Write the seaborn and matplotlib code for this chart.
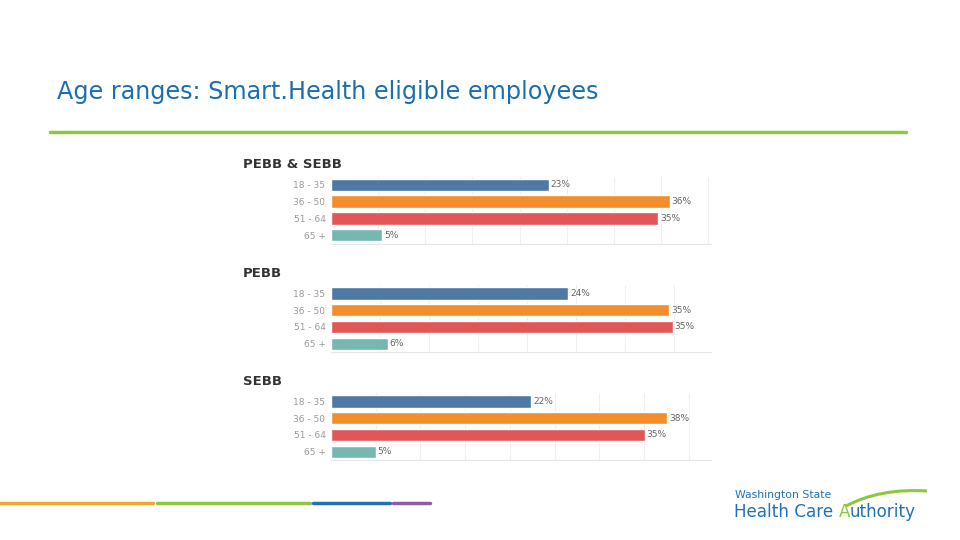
import matplotlib
matplotlib.use("Agg")
import matplotlib.pyplot as plt
import seaborn as sns
import pandas as pd
from matplotlib.lines import Line2D
from matplotlib.path import Path
from matplotlib.patches import PathPatch

sns.set_style("white")
plt.rcParams['font.family'] = ['DejaVu Sans']

age_groups = ["18 - 35", "36 - 50", "51 - 64", "65 +"]
panel_titles = ["PEBB & SEBB", "PEBB", "SEBB"]
pebb_sebb = [23.1, 35.9, 34.7, 5.4]
pebb = [24.2, 34.5, 34.9, 5.8]
sebb = [22.4, 37.6, 35.1, 5.0]
labels_pebb_sebb = ["23%", "36%", "35%", "5%"]
labels_pebb = ["24%", "35%", "35%", "6%"]
labels_sebb = ["22%", "38%", "35%", "5%"]
bar_colors = ["#4E79A7", "#F28E2B", "#E15759", "#76B7B2"]

panels = [
    (panel_titles[0], pebb_sebb, labels_pebb_sebb, 40.3, 0.549),
    (panel_titles[1], pebb, labels_pebb, 38.8, 0.348),
    (panel_titles[2], sebb, labels_sebb, 42.5, 0.148),
]

fig = plt.figure(figsize=(9.6, 5.4), dpi=100)

# Slide title and rules
fig.text(57 / 960, 1 - 92 / 540, "Age ranges: Smart.Health eligible employees",
         fontsize=17.2, color="#1A6FB0", va="center", ha="left")
fig.add_artist(Line2D([50 / 960, 906 / 960], [1 - 132 / 540] * 2, color="#8DC63F", lw=2.5))
for x0, x1, c in [(0, 153, "#F0A830"), (157, 310, "#8DC63F"), (313, 390, "#1F72B8"), (393, 430, "#8E5BA6")]:
    fig.add_artist(Line2D([x0 / 960, x1 / 960], [1 - 503 / 540] * 2, color=c, lw=2.5))

# Logo as text
fig.text(735 / 960, 1 - 495 / 540, "Washington State", fontsize=7.8, color="#1F72B8", va="center", ha="left")
fig.canvas.draw()
r = fig.canvas.get_renderer()
parts = [("Health Care ", "#1F72B8"), ("A", "#8DC63F"), ("uthority", "#1F72B8")]
xpos = 734
for txt, col in parts:
    t = fig.text(xpos / 960, 1 - 512 / 540, txt, fontsize=12.1, color=col, va="center", ha="left")
    bb = t.get_window_extent(renderer=r)
    xpos += bb.width
# swoosh
verts = [(846 / 960, 1 - 506 / 540), (880 / 960, 1 - 488 / 540), (927 / 960, 1 - 491 / 540)]
sw = PathPatch(Path(verts, [Path.MOVETO, Path.CURVE3, Path.CURVE3]), transform=fig.transFigure,
               fill=False, edgecolor="#8DC63F", lw=2.2)
fig.add_artist(sw)

for title, vals, labs, xmax, bottom in panels:
    ax = fig.add_axes([331 / 960, bottom, 380 / 960, 67 / 540])
    df = pd.DataFrame({"age": age_groups, "pct": vals})
    sns.barplot(data=df, y="age", x="pct", hue="age", palette=bar_colors, orient="h",
                width=0.74, legend=False, ax=ax, saturation=1)
    ax.set_xlim(0, xmax)
    ax.set_ylim(3.5, -0.5)
    ax.set_xticks([t for t in range(5, 45, 5) if t < xmax])
    ax.grid(axis="x", color="#EFEFEF", lw=0.8)
    ax.set_axisbelow(True)
    ax.tick_params(axis="x", length=0, labelbottom=False)
    ax.tick_params(axis="y", length=0, labelsize=6.5, labelcolor="#9A9A9A", pad=4)
    ax.set_xlabel("")
    ax.set_ylabel("")
    for s in ["top", "right", "left"]:
        ax.spines[s].set_visible(False)
    ax.spines["bottom"].set_color("#E6E6E6")
    ax.spines["bottom"].set_linewidth(0.8)
    for i, (v, l) in enumerate(zip(vals, labs)):
        ax.text(v + 0.2, i, l, fontsize=6.5, color="#666666", va="center", ha="left")
    fig.text(243 / 960, bottom + 67 / 540 + 12 / 540, title, fontsize=9.5, fontweight="bold",
             color="#333333", va="center", ha="left")

fig.savefig("out.png", dpi=100, facecolor="white")
